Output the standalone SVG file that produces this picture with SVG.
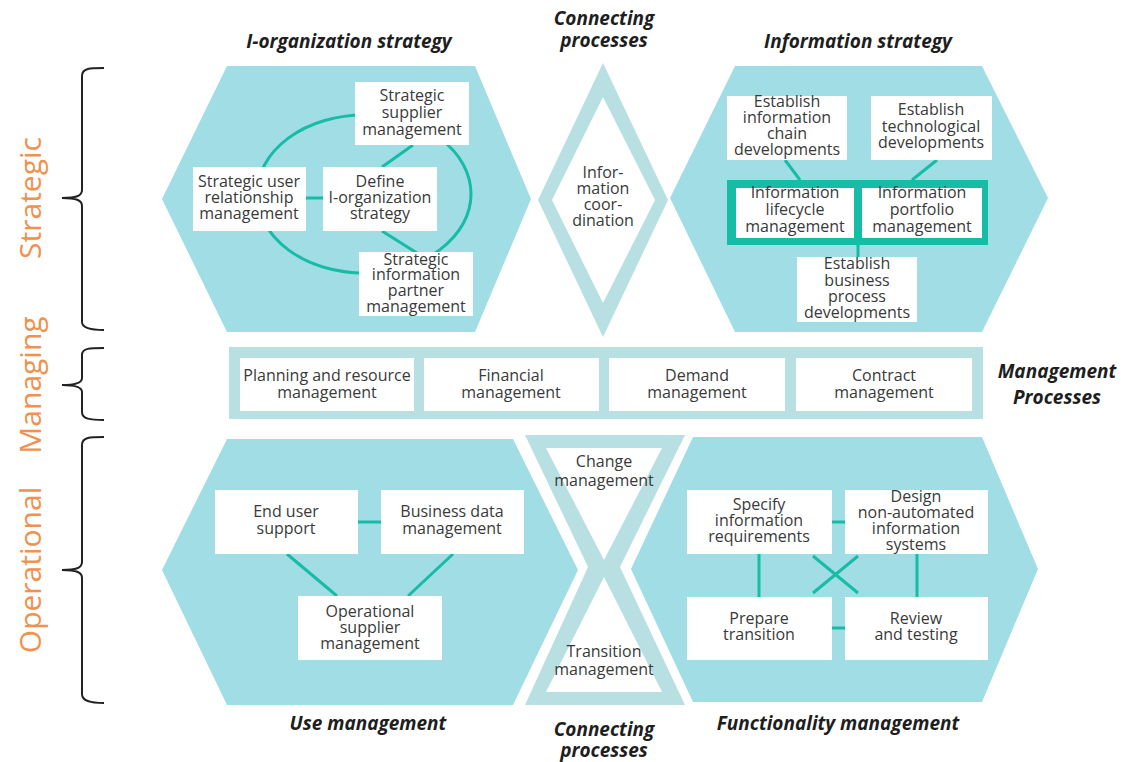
<svg xmlns="http://www.w3.org/2000/svg" width="1134" height="762" viewBox="0 0 1134 762">
<style>
.hex{fill:#a0dde4}
.band{fill:#b8e0e3}
.box{fill:#ffffff}
.ln{stroke:#17bca6;stroke-width:3;fill:none}
.t{font-family:"Open Sans","Liberation Sans",sans-serif;font-size:16px;fill:#3a3a3a;text-anchor:middle}
.ti{font-family:"Open Sans","Liberation Sans",sans-serif;font-size:19px;font-weight:bold;font-style:italic;fill:#1e1e1e;text-anchor:middle}
.lv{font-family:"Open Sans","Liberation Sans",sans-serif;font-size:30px;font-weight:normal;fill:#f0914e;text-anchor:middle}
.br{stroke:#222;stroke-width:2;fill:none}
</style>
<rect width="1134" height="762" fill="#ffffff"/>

<g id="levels">
<text class="lv" x="41" y="198" transform="rotate(-90 41 198)">Strategic</text>
<text class="lv" x="41" y="385" transform="rotate(-90 41 385)">Managing</text>
<text class="lv" x="41" y="570" transform="rotate(-90 41 570)">Operational</text>
<path class="br" d="M104,68 C90,68 82,68 82,76 L82,190 C82,196 76,198 62,198 C76,198 82,200 82,206 L82,322 C82,328 90,330 104,330"/>
<path class="br" d="M104,348 C90,348 82,348 82,355 L82,378 C82,383 76,385 62,385 C76,385 82,387 82,392 L82,412 C82,419 90,420 104,420"/>
<path class="br" d="M104,437 C90,437 82,437 82,445 L82,562 C82,568 76,570 62,570 C76,570 82,572 82,578 L82,694 C82,701 90,703 104,703"/>
</g>

<g id="titles">
<text class="ti" x="349" y="48">I-organization strategy</text>
<text class="ti" x="604" y="25">Connecting</text>
<text class="ti" x="604" y="47">processes</text>
<text class="ti" x="858" y="48">Information strategy</text>
<text class="ti" x="1057" y="378">Management</text>
<text class="ti" x="1057" y="404">Processes</text>
<text class="ti" x="368" y="730">Use management</text>
<text class="ti" x="604" y="736">Connecting</text>
<text class="ti" x="604" y="757">processes</text>
<text class="ti" x="838" y="730">Functionality management</text>
</g>

<g id="areas">
<polygon id="hex-iorg" class="hex" points="227,66 475,66 531,199 475,332 227,332 162,199"/>
<polygon id="hex-info" class="hex" points="735,66 982,66 1048,198 982,332 735,332 670,198"/>
<polygon id="hex-use" class="hex" points="227,439 513,439 578,570 513,705 227,705 162,570"/>
<polygon id="hex-func" class="hex" points="693,437 982,437 1038,569 982,702 693,702 631,569"/>
<polygon class="band" points="603,63 668,200 603,337 538,200"/>
<polygon class="box" points="603,97 655,200 603,303 552,200"/>
<polygon class="band" points="525,435 685,435 620,567 685,705 525,705 588,567"/>
<polygon class="box" points="546,448 662,448 604,560"/>
<polygon class="box" points="546,692 662,692 604,577"/>
<rect class="band" x="229" y="347" width="754" height="72"/>
</g>

<g id="connectors">
<ellipse class="ln" cx="364" cy="194" rx="107" ry="79"/>
<line class="ln" x1="382" y1="167" x2="413" y2="145"/>
<line class="ln" x1="382" y1="231" x2="417" y2="253"/>
<line class="ln" x1="306" y1="198" x2="323" y2="198"/>
<line class="ln" x1="785" y1="160" x2="800" y2="180"/>
<line class="ln" x1="937" y1="160" x2="912" y2="180"/>
<line class="ln" x1="858" y1="245" x2="858" y2="257"/>
<line class="ln" x1="358" y1="522" x2="381" y2="522"/>
<line class="ln" x1="287" y1="554" x2="337" y2="596"/>
<line class="ln" x1="453" y1="554" x2="408" y2="596"/>
<line class="ln" x1="832" y1="522" x2="845" y2="522"/>
<line class="ln" x1="832" y1="628" x2="845" y2="628"/>
<line class="ln" x1="759" y1="554" x2="759" y2="597"/>
<line class="ln" x1="917" y1="554" x2="917" y2="597"/>
<line class="ln" x1="813" y1="556" x2="858" y2="593"/>
<line class="ln" x1="858" y1="556" x2="813" y2="593"/>
</g>

<g id="n-ssm"><rect class="box" x="355" y="82" width="114" height="63"/>
<text class="t" x="412" y="101">Strategic</text><text class="t" x="412" y="118">supplier</text><text class="t" x="412" y="135">management</text></g>
<g id="n-surm"><rect class="box" x="193" y="167" width="113" height="64"/>
<text class="t" x="249" y="187">Strategic user</text><text class="t" x="249" y="203">relationship</text><text class="t" x="249" y="219">management</text></g>
<g id="n-dis"><rect class="box" x="323" y="167" width="114" height="64"/>
<text class="t" x="380" y="187">Define</text><text class="t" x="380" y="203">I-organization</text><text class="t" x="380" y="219">strategy</text></g>
<g id="n-sipm"><rect class="box" x="359" y="252" width="114" height="64"/>
<text class="t" x="416" y="265">Strategic</text><text class="t" x="416" y="280">information</text><text class="t" x="416" y="296">partner</text><text class="t" x="416" y="312">management</text></g>

<g id="n-coord">
<text class="t" x="603" y="178">Infor-</text><text class="t" x="603" y="194">mation</text><text class="t" x="603" y="210">coor-</text><text class="t" x="603" y="226">dination</text></g>

<g id="n-eicd"><rect class="box" x="727" y="96" width="120" height="64"/>
<text class="t" x="787" y="107">Establish</text><text class="t" x="787" y="123">information</text><text class="t" x="787" y="139">chain</text><text class="t" x="787" y="155">developments</text></g>
<g id="n-etd"><rect class="box" x="871" y="96" width="121" height="64"/>
<text class="t" x="931" y="115">Establish</text><text class="t" x="931" y="132">technological</text><text class="t" x="931" y="148">developments</text></g>
<g id="n-frame"><rect x="727" y="180" width="261" height="65" fill="#17bca6"/></g>
<g id="n-ilm"><rect class="box" x="736" y="188" width="118" height="50"/>
<text class="t" x="795" y="198">Information</text><text class="t" x="795" y="215">lifecycle</text><text class="t" x="795" y="232">management</text></g>
<g id="n-ipm"><rect class="box" x="862" y="188" width="120" height="50"/>
<text class="t" x="922" y="198">Information</text><text class="t" x="922" y="215">portfolio</text><text class="t" x="922" y="232">management</text></g>
<g id="n-ebpd"><rect class="box" x="797" y="257" width="120" height="65"/>
<text class="t" x="857" y="269">Establish</text><text class="t" x="857" y="286">business</text><text class="t" x="857" y="302">process</text><text class="t" x="857" y="318">developments</text></g>

<g id="n-prm"><rect class="box" x="240" y="358" width="174" height="53"/>
<text class="t" x="327" y="381">Planning and resource</text><text class="t" x="327" y="398">management</text></g>
<g id="n-fm"><rect class="box" x="424" y="358" width="175" height="53"/>
<text class="t" x="511" y="381">Financial</text><text class="t" x="511" y="398">management</text></g>
<g id="n-dm"><rect class="box" x="609" y="358" width="176" height="53"/>
<text class="t" x="697" y="381">Demand</text><text class="t" x="697" y="398">management</text></g>
<g id="n-cm"><rect class="box" x="796" y="358" width="176" height="53"/>
<text class="t" x="884" y="381">Contract</text><text class="t" x="884" y="398">management</text></g>

<g id="n-eus"><rect class="box" x="215" y="490" width="143" height="64"/>
<text class="t" x="286" y="517">End user</text><text class="t" x="286" y="534">support</text></g>
<g id="n-bdm"><rect class="box" x="381" y="490" width="143" height="64"/>
<text class="t" x="452" y="517">Business data</text><text class="t" x="452" y="534">management</text></g>
<g id="n-osm"><rect class="box" x="298" y="596" width="144" height="64"/>
<text class="t" x="370" y="617">Operational</text><text class="t" x="370" y="633">supplier</text><text class="t" x="370" y="649">management</text></g>

<g id="n-change">
<text class="t" x="604" y="467">Change</text><text class="t" x="604" y="486">management</text></g>
<g id="n-transition">
<text class="t" x="604" y="657">Transition</text><text class="t" x="604" y="675">management</text></g>

<g id="n-sir"><rect class="box" x="687" y="490" width="145" height="64"/>
<text class="t" x="759" y="510">Specify</text><text class="t" x="759" y="526">information</text><text class="t" x="759" y="542">requirements</text></g>
<g id="n-dnais"><rect class="box" x="845" y="490" width="143" height="64"/>
<text class="t" x="916" y="502">Design</text><text class="t" x="916" y="518">non-automated</text><text class="t" x="916" y="534">information</text><text class="t" x="916" y="550">systems</text></g>
<g id="n-pt"><rect class="box" x="687" y="597" width="145" height="63"/>
<text class="t" x="759" y="624">Prepare</text><text class="t" x="759" y="640">transition</text></g>
<g id="n-rt"><rect class="box" x="845" y="597" width="143" height="63"/>
<text class="t" x="916" y="624">Review</text><text class="t" x="916" y="640">and testing</text></g>
</svg>
